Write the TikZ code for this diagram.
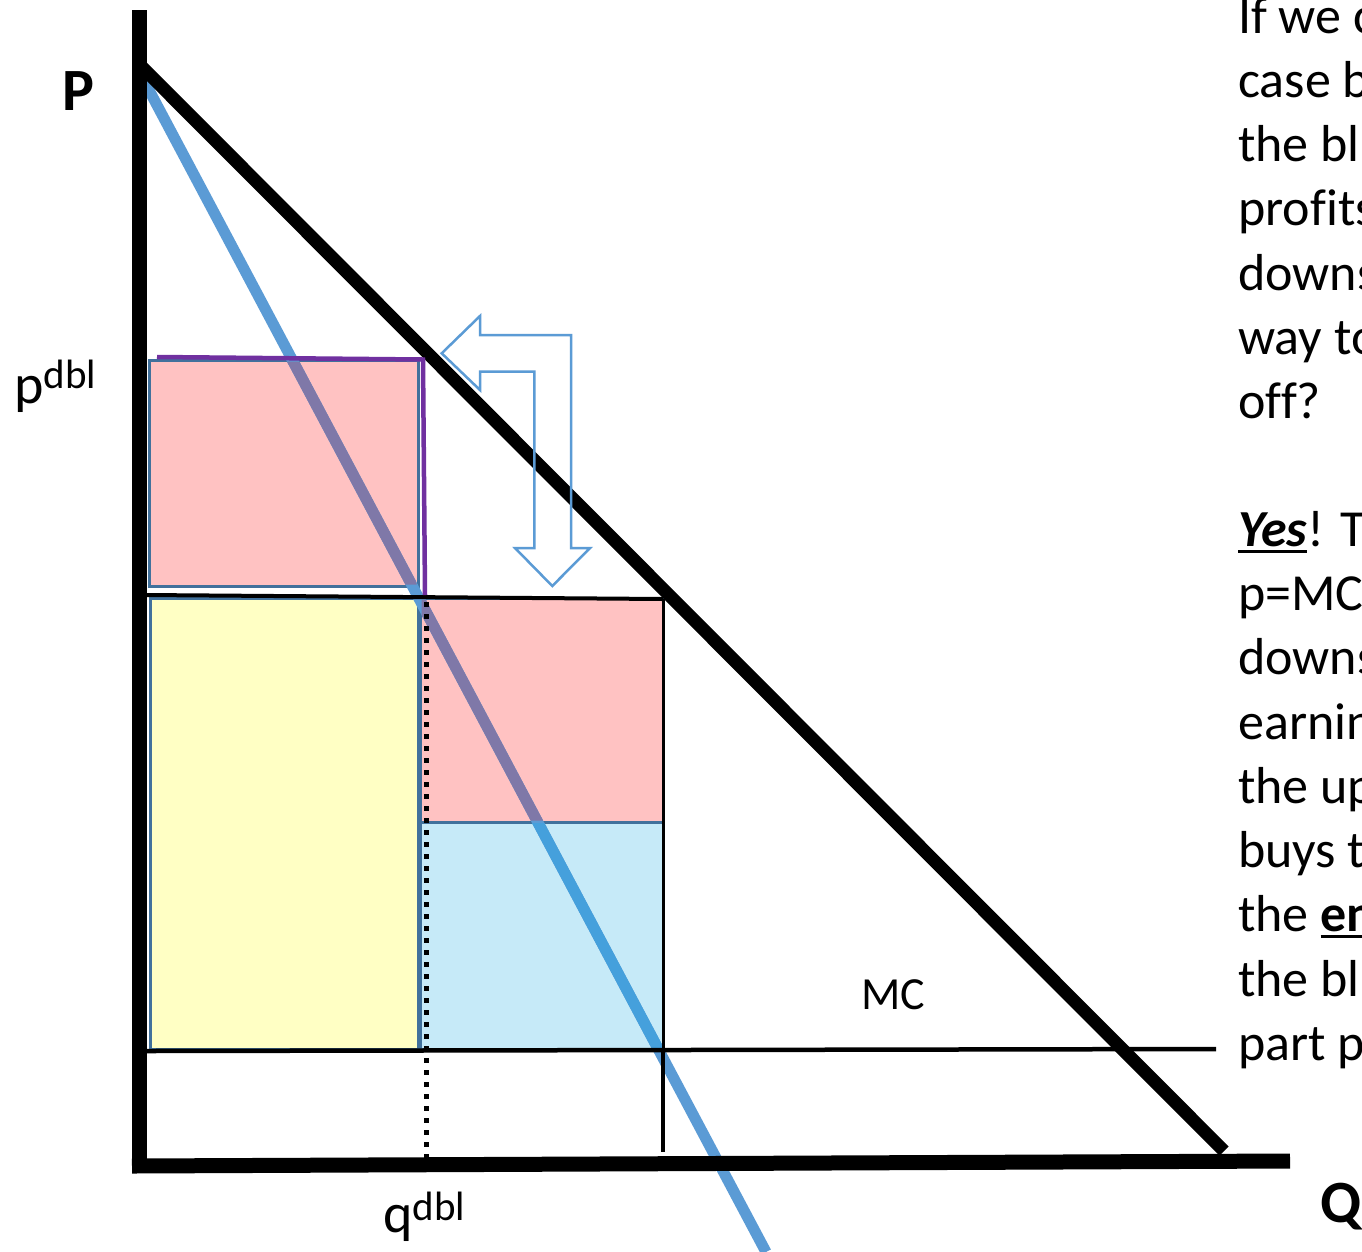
\documentclass[tikz,border=0pt]{standalone}
\usepackage{fontspec}
\setmainfont{Carlito}[Ligatures=CommonOff]
\definecolor{pinkfill}{HTML}{FFC2C2}
\definecolor{yellowfill}{HTML}{FFFFC4}
\definecolor{lbluefill}{HTML}{C6EAF8}
\definecolor{edgeblue}{HTML}{41719C}
\definecolor{mrblue}{HTML}{5B9BD5}
\definecolor{mronpink}{HTML}{7F78A8}
\definecolor{mronblue}{HTML}{45A0DC}
\definecolor{purp}{HTML}{7030A0}
\newcommand\myul[1]{\setbox0\hbox{#1}\rlap{\rule[-7pt]{\wd0}{3pt}}\box0}
\begin{document}
\begin{tikzpicture}[x=1pt,y=-1pt,
  area/.style={draw=edgeblue,line width=3pt},
  axisline/.style={line width=15pt},
  demandline/.style={line width=13pt},
  mrline/.style={line width=11pt},
  thinblack/.style={line width=4.5pt},
  body/.style={font=\fontsize{52}{64}\selectfont, anchor=base west, inner sep=0},
  lbl/.style={anchor=base west, inner sep=0}]
\useasboundingbox (0,0) rectangle (1362,1251);
\clip (0,0) rectangle (1362,1251);
\fill[white] (0,0) rectangle (1362,1251);

% areas
\path[area, fill=pinkfill] (149,360) rectangle (418,586);
\path[area, fill=yellowfill] (150,598) rectangle (418,1049);
\path[area, fill=pinkfill] (420,598) rectangle (663,822);
\path[area, fill=lbluefill] (420,822) rectangle (663,1049);

% MR line
\draw[mrline, mrblue] (141,75) -- (766,1252);
\begin{scope}
  \clip (150.5,361.5) rectangle (416.5,584.5) (421.5,599.5) rectangle (661.5,820.5);
  \draw[mrline, mronpink] (141,75) -- (766,1252);
\end{scope}
\begin{scope}
  \clip (421.5,823.5) rectangle (661.5,1047.5);
  \draw[mrline, mronblue] (141,75) -- (766,1252);
\end{scope}

% demand line
\draw[demandline] (141,66) -- (1224,1151);

% axes
\draw[axisline] (139,10) -- (139,1160);
\draw[axisline] (132,1166) -- (1290,1161);

% MC line and guides
\draw[thinblack] (146,1051) -- (1216,1049);
\draw[line width=4pt] (146,595) -- (663,599);
\draw[line width=3pt] (663,599) -- (663,1049);
\draw[thinblack] (663,1049) -- (663,1152);
\draw[line width=5pt, dash pattern=on 5pt off 7pt] (426,602) -- (426,1165);

% purple
\draw[purp, line width=4.5pt, line join=miter] (157,357) -- (423,359.5) -- (425,595);

% hollow arrow
\draw[mrblue, line width=2.5pt, line join=miter]
  (441.7,353.3) -- (480,316) -- (480,335) -- (571,335) -- (571,548) -- (590,548)
  -- (552.3,586) -- (515,548) -- (534.3,548) -- (534.3,371.7) -- (480,371.7)
  -- (480,390) -- cycle;

% labels
\node[lbl, font=\fontsize{60}{70}\selectfont\bfseries] (P) at (62,110) {P};
\node[lbl, font=\fontsize{56}{66}\selectfont] (pdbl) at (14,403) {p\raisebox{15pt}{\fontsize{41}{46}\selectfont dbl}};
\node[lbl, font=\fontsize{56}{66}\selectfont] (qdbl) at (383,1232) {q\raisebox{12pt}{\fontsize{41}{46}\selectfont dbl}};
\node[lbl, font=\fontsize{60}{70}\selectfont\bfseries] (Q) at (1320,1222) {Q};
\node[lbl, font=\fontsize{46}{54}\selectfont] (MC) at (861,1009) {MC};

% text column
\node[body] (t1) at (1238,33) {If we c};
\node[body] (t2) at (1238,97) {case b};
\node[body] (t3) at (1238,161) {the bl};
\node[body] (t4) at (1238,225) {profits};
\node[body] (t5) at (1238,290) {downs};
\node[body] (t6) at (1238,354) {way to};
\node[body] (t7) at (1238,418) {off?};
\node[body] (t8) at (1238,546) {\myul{\textbf{\textit{Yes}}}! T};
\node[body] (t9) at (1238,610) {p=MC};
\node[body] (t10) at (1238,674) {downs};
\node[body] (t11) at (1238,739) {earnin};
\node[body] (t12) at (1238,803) {the up};
\node[body] (t13) at (1238,867) {buys t};
\node[body] (t14) at (1238,931) {the \myul{\textbf{en}}};
\node[body] (t15) at (1238,996) {the bl};
\node[body] (t16) at (1238,1060) {part p};
\end{tikzpicture}
\end{document}
